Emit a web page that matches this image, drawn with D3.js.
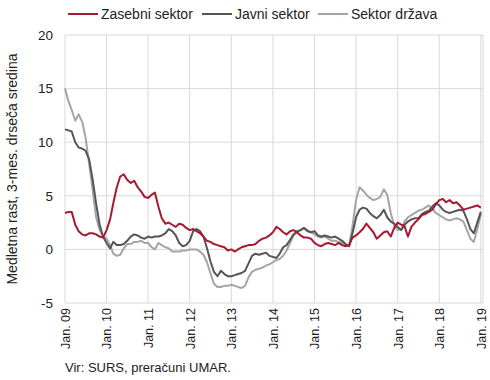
<!DOCTYPE html>
<html>
<head>
<meta charset="utf-8">
<script src="https://cdn.jsdelivr.net/npm/d3@7/dist/d3.min.js"></script>
<style>
body { margin: 0; background: #fff; }
text { font-family: "Liberation Sans", Arial, sans-serif; fill: #222; }
</style>
</head>
<body>
<script>
var w = 490, h = 380;
var margin = {top: 35, right: 7, bottom: 77, left: 65};

// monthly, Jan 2009 .. Jan 2019
var start = new Date(2009, 0, 1);
var zasebni = [3.4,3.5,3.5,2.3,1.7,1.4,1.3,1.5,1.5,1.4,1.2,1.1,
  1.8,2.8,4.3,5.8,6.8,7.0,6.5,6.2,6.4,5.8,5.4,4.9,
  4.8,5.1,5.3,4.0,2.9,2.4,2.5,2.3,2.1,2.4,2.3,2.0,
  1.8,1.9,1.7,1.5,1.2,0.8,0.7,0.5,0.4,0.3,0.2,-0.1,
  0.0,-0.2,0.0,0.2,0.3,0.4,0.4,0.5,0.8,1.0,1.1,1.3,
  1.6,2.1,1.9,1.6,1.4,1.7,1.8,1.6,1.3,1.1,1.1,1.0,
  0.6,0.4,0.3,0.5,0.6,0.5,0.4,0.6,0.4,0.3,0.4,1.1,
  1.3,1.6,1.9,2.4,2.0,1.6,1.0,1.3,1.6,1.7,1.2,2.0,
  2.5,2.3,2.2,1.2,2.1,2.5,2.8,3.2,3.3,3.5,3.7,4.2,
  4.6,4.7,4.4,4.6,4.3,4.4,4.1,3.7,3.8,3.9,4.0,4.1,
  3.9];
var javni = [11.2,11.1,11.0,10.0,9.5,9.4,9.2,8.4,6.5,4.3,2.3,1.2,
  0.6,0.1,0.7,0.4,0.4,0.5,0.8,1.2,1.4,1.3,1.1,1.0,
  1.2,1.1,1.2,1.2,1.3,1.5,1.9,1.7,1.3,0.6,0.3,0.4,
  0.8,1.7,1.9,1.7,1.2,0.1,-1.1,-2.1,-2.5,-2.0,-2.3,-2.5,
  -2.5,-2.4,-2.3,-2.2,-2.0,-1.3,-0.6,-0.4,-0.5,-0.4,-0.3,-0.6,
  -0.7,-0.8,-0.4,0.2,0.4,0.9,1.4,1.7,1.8,2.0,1.7,1.6,
  1.7,1.3,1.2,1.3,1.2,1.1,1.2,1.0,0.8,0.5,0.3,1.5,
  3.0,3.7,3.9,3.8,3.4,3.1,2.9,3.2,3.7,3.0,2.6,2.4,
  2.1,1.8,2.3,2.6,2.8,2.9,2.9,3.3,3.5,3.6,4.0,4.3,
  4.1,3.7,3.5,3.4,3.5,3.6,3.7,3.6,2.8,1.9,1.5,2.5,
  3.5];
var drzava = [15.0,13.8,13.0,12.0,12.6,11.9,10.4,8.0,5.5,3.0,1.8,1.2,
  1.0,0.4,-0.4,-0.6,-0.5,0.1,0.5,0.5,0.7,0.7,0.8,0.6,
  0.6,0.2,0.0,0.6,0.4,0.2,0.1,-0.2,-0.2,-0.2,-0.1,-0.1,
  0.0,0.0,0.0,-0.2,-0.5,-1.2,-2.2,-3.2,-3.5,-3.5,-3.4,-3.4,
  -3.3,-3.4,-3.5,-3.6,-3.4,-2.6,-2.1,-1.9,-1.8,-1.7,-1.5,-1.4,
  -1.2,-1.0,-0.9,-0.6,-0.1,0.6,1.3,1.6,1.8,2.0,1.8,1.6,
  1.4,1.2,1.1,1.2,1.0,0.8,0.8,0.7,0.6,0.4,0.3,2.2,
  4.6,5.8,5.5,5.1,4.8,4.6,4.7,4.9,5.6,5.1,3.4,2.2,
  1.8,1.9,2.6,3.0,3.2,3.4,3.6,3.7,3.9,4.1,3.8,3.4,
  3.2,3.0,2.8,2.7,2.8,2.9,2.8,2.6,1.8,1.0,0.7,1.9,
  3.3];

var seriesNames = ["Zasebni sektor", "Javni sektor", "Sektor država"];
var seriesColors = ["#a6192e", "#555555", "#a5a5a5"];
var yTicks = [-5, 0, 5, 10, 15, 20];
var xTickLabels = ["Jan. 09","Jan. 10","Jan. 11","Jan. 12","Jan. 13","Jan. 14",
  "Jan. 15","Jan. 16","Jan. 17","Jan. 18","Jan. 19"];

var svg = d3.select("body").append("svg")
    .attr("width", w)
    .attr("height", h);

var x = d3.scaleTime()
    .domain([start, new Date(2019, 0, 20)])
    .range([margin.left, w - margin.right]);
var y = d3.scaleLinear()
    .domain([-5, 20])
    .range([h - margin.bottom, margin.top]);

var years = xTickLabels.map(function (d, i) { return new Date(2009 + i, 0, 1); });

// grid
svg.append("g").selectAll("line.h")
    .data(yTicks)
    .enter().append("line")
    .attr("x1", margin.left).attr("x2", w - margin.right)
    .attr("y1", function (d) { return y(d); })
    .attr("y2", function (d) { return y(d); })
    .attr("stroke", "#d9d9d9").attr("stroke-width", 1);

svg.append("g").selectAll("line.v")
    .data(years)
    .enter().append("line")
    .attr("x1", function (d) { return x(d); })
    .attr("x2", function (d) { return x(d); })
    .attr("y1", y(20)).attr("y2", y(-5))
    .attr("stroke", "#d9d9d9").attr("stroke-width", 1);

svg.append("line")
    .attr("x1", w - margin.right).attr("x2", w - margin.right)
    .attr("y1", y(20)).attr("y2", y(-5))
    .attr("stroke", "#d9d9d9");

// y axis
var yAxis = svg.append("g")
    .attr("transform", "translate(" + (margin.left - 6) + ",0)")
    .call(d3.axisLeft(y).tickValues(yTicks).tickSize(0).tickPadding(6)
        .tickFormat(function (d) { return String(d); }));
yAxis.select(".domain").remove();
yAxis.selectAll("text")
    .style("font-size", "13.5px")
    .style("font-family", "'Liberation Sans', Arial, sans-serif")
    .attr("fill", "#222");

// x axis
var xAxis = svg.append("g")
    .attr("transform", "translate(0," + y(-5) + ")")
    .call(d3.axisBottom(x).tickValues(years).tickSize(0)
        .tickFormat(function (d, i) { return xTickLabels[i]; }));
xAxis.select(".domain").remove();
xAxis.selectAll("text")
    .style("font-size", "12.5px")
    .style("font-family", "'Liberation Sans', Arial, sans-serif")
    .attr("fill", "#222")
    .attr("text-anchor", "end")
    .attr("transform", "rotate(-90)")
    .attr("x", -5)
    .attr("y", 0)
    .attr("dy", "0.35em");

// lines
var allSeries = [zasebni, javni, drzava];
var line = d3.line()
    .x(function (d, i) { return x(d3.timeMonth.offset(start, i)); })
    .y(function (d) { return y(d); });

[2, 1, 0].forEach(function (k) {
    svg.append("path")
        .datum(allSeries[k])
        .attr("fill", "none")
        .attr("stroke", seriesColors[k])
        .attr("stroke-width", 2)
        .attr("stroke-linejoin", "round")
        .attr("d", line);
});

// legend
var legendX = [68, 202, 318];
var legend = svg.append("g").selectAll("g")
    .data(seriesNames)
    .enter().append("g")
    .attr("transform", function (d, i) { return "translate(" + legendX[i] + ",14)"; });
legend.append("line")
    .attr("x1", 0).attr("x2", 30)
    .attr("stroke", function (d, i) { return seriesColors[i]; })
    .attr("stroke-width", 2);
legend.append("text")
    .attr("x", 33).attr("dy", "0.35em")
    .style("font-size", "14px")
    .text(function (d) { return d; });

// y label
svg.append("text")
    .attr("transform", "translate(17," + ((y(20) + y(-5)) / 2) + ") rotate(-90)")
    .attr("text-anchor", "middle")
    .style("font-size", "14px")
    .text("Medletna rast, 3-mes. drseča sredina");

// source
svg.append("text")
    .attr("x", margin.left).attr("y", 372)
    .style("font-size", "13px")
    .text("Vir: SURS, preračuni UMAR.");
</script>
</body>
</html>
